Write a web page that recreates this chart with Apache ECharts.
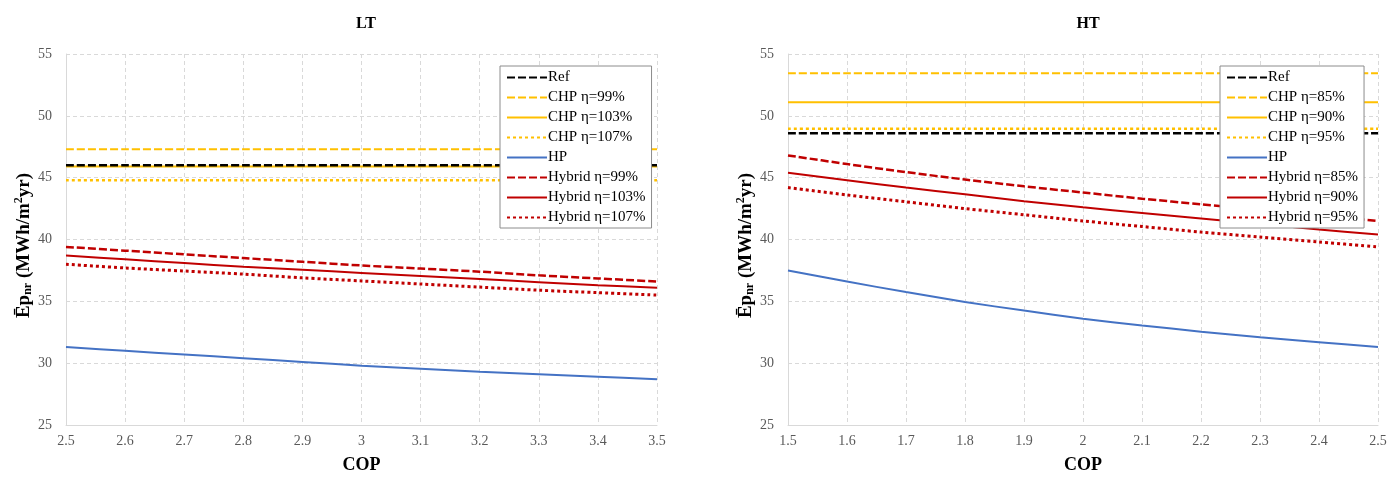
<!DOCTYPE html>
<html><head><meta charset="utf-8">
<script src="https://cdn.jsdelivr.net/npm/echarts@6/dist/echarts.min.js"></script>
<style>html,body{margin:0;padding:0;background:#fff}#c{width:1400px;height:479px}</style>
</head><body><div id="c"></div>
<script>
// ---- data ----
var copLT = [2.5, 2.6, 2.7, 2.8, 2.9, 3.0, 3.1, 3.2, 3.3, 3.4, 3.5];
var copHT = [1.5, 1.6, 1.7, 1.8, 1.9, 2.0, 2.1, 2.2, 2.3, 2.4, 2.5];
var xTicksLT = ['2.5','2.6','2.7','2.8','2.9','3','3.1','3.2','3.3','3.4','3.5'];
var xTicksHT = ['1.5','1.6','1.7','1.8','1.9','2','2.1','2.2','2.3','2.4','2.5'];
var yTicks = [25, 30, 35, 40, 45, 50, 55];

var namesLT = ['Ref','CHP η=99%','CHP η=103%','CHP η=107%','HP','Hybrid η=99%','Hybrid η=103%','Hybrid η=107%'];
var namesHT = ['Ref','CHP η=85%','CHP η=90%','CHP η=95%','HP','Hybrid η=85%','Hybrid η=90%','Hybrid η=95%'];

// LT
var refLT    = [46.0, 46.0, 46.0, 46.0, 46.0, 46.0, 46.0, 46.0, 46.0, 46.0, 46.0];
var chp1LT   = [47.3, 47.3, 47.3, 47.3, 47.3, 47.3, 47.3, 47.3, 47.3, 47.3, 47.3];
var chp2LT   = [45.9, 45.9, 45.9, 45.9, 45.9, 45.9, 45.9, 45.9, 45.9, 45.9, 45.9];
var chp3LT   = [44.8, 44.8, 44.8, 44.8, 44.8, 44.8, 44.8, 44.8, 44.8, 44.8, 44.8];
var hpLT     = [31.3, 31.0, 30.7, 30.4, 30.1, 29.8, 29.55, 29.3, 29.1, 28.9, 28.7];
var hyb1LT   = [39.4, 39.1, 38.8, 38.5, 38.2, 37.9, 37.65, 37.4, 37.1, 36.85, 36.6];
var hyb2LT   = [38.7, 38.4, 38.1, 37.8, 37.55, 37.3, 37.05, 36.8, 36.55, 36.3, 36.1];
var hyb3LT   = [38.0, 37.7, 37.45, 37.2, 36.9, 36.65, 36.4, 36.15, 35.9, 35.7, 35.5];
// HT
var refHT    = [48.6, 48.6, 48.6, 48.6, 48.6, 48.6, 48.6, 48.6, 48.6, 48.6, 48.6];
var chp1HT   = [53.45, 53.45, 53.45, 53.45, 53.45, 53.45, 53.45, 53.45, 53.45, 53.45, 53.45];
var chp2HT   = [51.1, 51.1, 51.1, 51.1, 51.1, 51.1, 51.1, 51.1, 51.1, 51.1, 51.1];
var chp3HT   = [48.95, 48.95, 48.95, 48.95, 48.95, 48.95, 48.95, 48.95, 48.95, 48.95, 48.95];
var hpHT     = [37.5, 36.6, 35.75, 34.95, 34.25, 33.6, 33.05, 32.55, 32.1, 31.7, 31.3];
var hyb1HT   = [46.8, 46.1, 45.45, 44.85, 44.3, 43.8, 43.3, 42.85, 42.4, 41.95, 41.5];
var hyb2HT   = [45.4, 44.8, 44.2, 43.65, 43.1, 42.6, 42.15, 41.7, 41.25, 40.8, 40.4];
var hyb3HT   = [44.2, 43.6, 43.05, 42.5, 42.0, 41.5, 41.05, 40.6, 40.2, 39.8, 39.4];

// ---- styles ----
var FONT = '"Liberation Serif", "Times New Roman", serif';
var YELLOW = '#FFC000', BLUE = '#4472C4', RED = '#C00000', BLACK = '#000000';
var DASH = [8, 3], DOT = [3, 3];
var styles = [
  {color: BLACK,  width: 2.5, type: DASH},
  {color: YELLOW, width: 2,   type: DASH},
  {color: YELLOW, width: 2,   type: 'solid'},
  {color: YELLOW, width: 2.5, type: DOT},
  {color: BLUE,   width: 2,   type: 'solid'},
  {color: RED,    width: 2.5, type: DASH},
  {color: RED,    width: 2,   type: 'solid'},
  {color: RED,    width: 3,   type: DOT}
];

function pairs(xs, ys) { return xs.map(function (x, i) { return [x, ys[i]]; }); }

function makeSeries(names, xs, arrs, idx) {
  return names.map(function (n, i) {
    var s = styles[i];
    return {
      name: n, type: 'line', xAxisIndex: idx, yAxisIndex: idx,
      data: pairs(xs, arrs[i]), showSymbol: false, symbol: 'none', smooth: 0.3,
      z: 2,
      lineStyle: {color: s.color, width: s.width, type: s.type},
      itemStyle: {color: s.color},
      emphasis: {disabled: true}
    };
  });
}

var arrsLT = [refLT, chp1LT, chp2LT, chp3LT, hpLT, hyb1LT, hyb2LT, hyb3LT];
var arrsHT = [refHT, chp1HT, chp2HT, chp3HT, hpHT, hyb1HT, hyb2HT, hyb3HT];
// draw Ref last so it lies on top of CHP lines
function order(list) { return list.slice(1).concat([list[0]]); }

var splitDash = {show: true, lineStyle: {color: '#d9d9d9', type: [4, 3], width: 1}};

function xAxis(idx, min, max, ticks) {
  return {
    type: 'value', gridIndex: idx, min: min, max: max, interval: 0.1,
    name: 'COP', nameLocation: 'middle', nameGap: 31,
    nameTextStyle: {fontFamily: FONT, fontWeight: 'bold', fontSize: 18, color: '#000'},
    axisLine: {show: true, lineStyle: {color: '#d9d9d9', width: 1}},
    axisTick: {show: false},
    axisLabel: {fontFamily: FONT, fontSize: 14, color: '#595959', margin: 9,
      formatter: function (v) { var k = Math.round((v - min) * 10); return ticks[k] !== undefined ? ticks[k] : ''; }},
    splitLine: splitDash
  };
}
function yAxis(idx) {
  return {
    type: 'value', gridIndex: idx, min: yTicks[0], max: yTicks[yTicks.length - 1], interval: 5,
    name: '{b|Ēp}{s|nr}{b| (MWh/m}{p|2}{b|yr)}', nameLocation: 'middle', nameGap: 27,
    nameTextStyle: {
      padding: [0, 12, 0, 0],
      rich: {
        b: {fontFamily: FONT, fontWeight: 'bold', fontSize: 19, color: '#000'},
        s: {fontFamily: FONT, fontWeight: 'bold', fontSize: 12, color: '#000', verticalAlign: 'bottom', padding: [9, 0, 0, 0]},
        p: {fontFamily: FONT, fontWeight: 'bold', fontSize: 12, color: '#000', verticalAlign: 'top', padding: [0, 0, 7, 0]}
      }
    },
    axisLine: {show: true, lineStyle: {color: '#d9d9d9', width: 1}},
    axisTick: {show: false},
    axisLabel: {fontFamily: FONT, fontSize: 14, color: '#595959', margin: 14},
    splitLine: splitDash
  };
}
function legend(left, names) {
  return {
    orient: 'vertical', left: left, top: 66, data: names, z: 20,
    itemWidth: 40, itemHeight: 12, itemGap: 5,
    backgroundColor: '#ffffff', borderColor: '#8c8c8c', borderWidth: 1,
    padding: [4, 6, 3, 6],
    selectedMode: false,
    itemStyle: {opacity: 0},
    textStyle: {fontFamily: FONT, fontSize: 15, lineHeight: 15, color: '#000', padding: [0, 0, 0, -4]}
  };
}

var chart = echarts.init(document.getElementById('c'), null, {renderer: 'canvas'});
chart.setOption({
  animation: false,
  backgroundColor: '#ffffff',
  title: [
    {text: 'LT', left: 361, top: 11, textAlign: 'center', textStyle: {fontFamily: FONT, fontWeight: 'bold', fontSize: 16, color: '#000'}},
    {text: 'HT', left: 1083, top: 11, textAlign: 'center', textStyle: {fontFamily: FONT, fontWeight: 'bold', fontSize: 16, color: '#000'}}
  ],
  grid: [
    {left: 66, width: 591, top: 54, height: 374},
    {left: 788, width: 590, top: 54, height: 374}
  ],
  xAxis: [xAxis(0, 2.5, 3.5, xTicksLT), xAxis(1, 1.5, 2.5, xTicksHT)],
  yAxis: [yAxis(0), yAxis(1)],
  legend: [legend(500, namesLT), legend(1220, namesHT)],
  series: order(makeSeries(namesLT, copLT, arrsLT, 0)).concat(order(makeSeries(namesHT, copHT, arrsHT, 1)))
});
</script></body></html>
